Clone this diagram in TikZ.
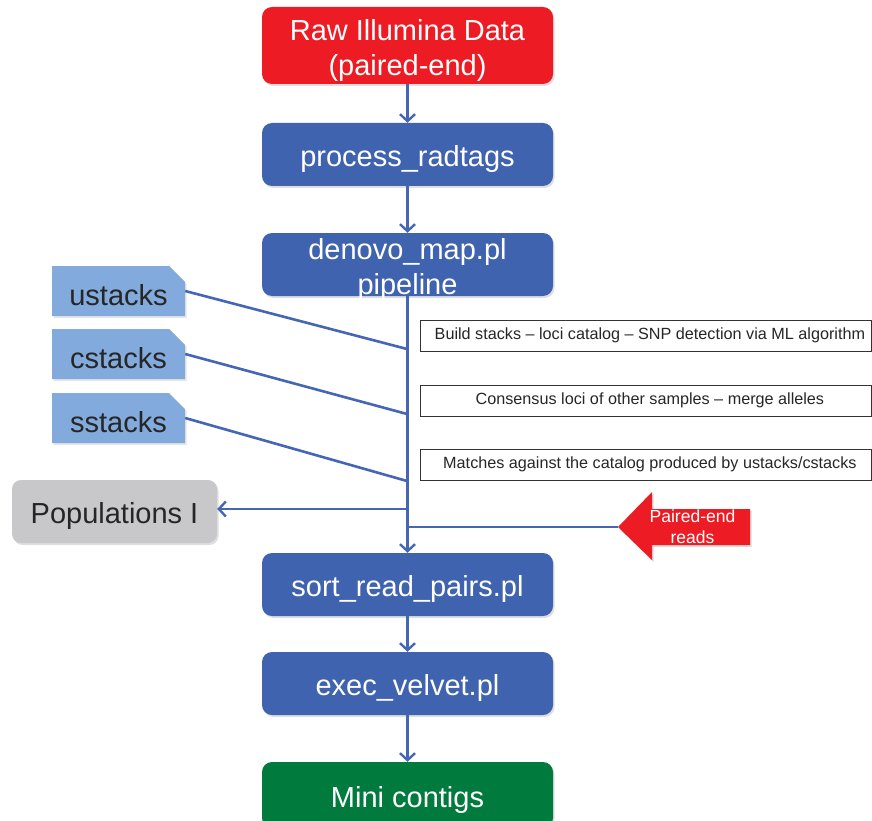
\documentclass[tikz,border=0pt]{standalone}
\usepackage{fontspec}
\setmainfont{Liberation Sans}
\usetikzlibrary{arrows.meta,shapes.misc,shadows,calc}
\definecolor{rawred}{RGB}{237,28,36}
\definecolor{stepblue}{RGB}{64,99,175}
\definecolor{linkblue}{RGB}{68,102,180}
\definecolor{finalgreen}{RGB}{0,122,61}
\definecolor{popgray}{RGB}{200,200,202}
\definecolor{stacklight}{RGB}{130,170,220}
\newcommand{\lowerstrut}{\rule{0pt}{31pt}}
\tikzset{
  flowbox/.style={rounded corners=10pt, minimum width=291pt, minimum height=63pt, inner sep=0pt,
    text=white, font=\fontsize{29}{34.5}\selectfont, align=center,
    drop shadow={opacity=0.25, shadow xshift=1.5pt, shadow yshift=-2pt}},
  stackbox/.style={chamfered rectangle, chamfered rectangle corners={north east},
    chamfered rectangle xsep=8pt, chamfered rectangle ysep=8pt,
    fill=stacklight, minimum width=133pt, minimum height=50pt, inner sep=0pt,
    text=black!85, font=\fontsize{29}{34}\selectfont,
    execute at begin node={\rule{0pt}{29pt}},
    drop shadow={opacity=0.2, shadow xshift=1.5pt, shadow yshift=-2pt}},
  notebox/.style={draw=black!80, line width=0.8pt, minimum width=451pt, minimum height=31pt,
    inner sep=0pt, font=\fontsize{16.2}{19}\selectfont, text=black!85},
  link/.style={draw=linkblue, line width=2.6pt},
  linkarrow/.style={link, -{Straight Barb[length=7pt,width=15pt,line width=2.4pt]}},
}
\begin{document}
\begin{tikzpicture}[x=1pt,y=-1pt]
\useasboundingbox (0,0) rectangle (872,821);
\clip (0,0) rectangle (872,821);

% main flow boxes
\node[flowbox, fill=rawred, minimum height=77pt] (raw) at (407.5,45.5) {\lowerstrut Raw Illumina Data\\(paired-end)};
\node[flowbox, fill=stepblue] (proc) at (407.5,154.5) {\lowerstrut process\_radtags};
\node[flowbox, fill=stepblue, inner ysep=-6pt] (denovo) at (407.5,264.5) {\lowerstrut denovo\_map.pl\\pipeline};
\node[flowbox, fill=stepblue] (sort) at (407.5,584.5) {\lowerstrut sort\_read\_pairs.pl};
\node[flowbox, fill=stepblue] (velvet) at (407.5,683.5) {\lowerstrut exec\_velvet.pl};
\node[flowbox, fill=finalgreen, minimum height=66pt] (mini) at (407.5,795) {\lowerstrut Mini contigs};

% stacks components
\node[stackbox] (ustacks) at (118.5,291) {ustacks};
\node[stackbox] (cstacks) at (118.5,354) {cstacks};
\node[stackbox] (sstacks) at (118.5,418) {sstacks};

% populations
\node[flowbox, fill=popgray, text=black!85, minimum width=205pt, minimum height=63pt, rounded corners=9pt] (pop) at (114.5,511.5) {\lowerstrut Populations I};

% notes
\node[notebox, anchor=west] (n1) at (420,335.5) {\hspace*{8pt}Build stacks -- loci catalog -- SNP detection via ML algorithm};
\node[notebox, anchor=west] (n2) at (420,400.5) {\hspace*{8pt}Consensus loci of other samples -- merge alleles};
\node[notebox, anchor=west] (n3) at (420,464.5) {\hspace*{8pt}Matches against the catalog produced by ustacks/cstacks};

% paired-end reads arrow
\fill[black, opacity=0.15] (653.5,511) -- (653.5,494) -- (619.5,529) -- (653.5,562) -- (653.5,547) -- (751.5,547) -- (751.5,511) -- cycle;
\fill[rawred] (652,509) -- (652,492) -- (618,527) -- (652,560) -- (652,545) -- (750,545) -- (750,509) -- cycle;
\node[align=center, inner sep=0pt, text=white, font=\fontsize{17.5}{21}\selectfont] (pe) at (692.5,527) {Paired-end\\reads};
\coordinate (petip) at (618,527);

% junctions on the main line
\coordinate (ju) at (407,349);
\coordinate (jc) at (407,414);
\coordinate (js) at (407,481);
\coordinate (jp) at (407,509);
\coordinate (je) at (407,527);

% connectors
\draw[linkarrow] (raw.south) -- (proc.north);
\draw[linkarrow] (proc.south) -- (denovo.north);
\draw[linkarrow] (denovo.south) -- (sort.north);
\draw[linkarrow] (sort.south) -- (velvet.north);
\draw[linkarrow] (velvet.south) -- (mini.north);
\draw[link] (ustacks.east) -- (ju);
\draw[link] (cstacks.east) -- (jc);
\draw[link] (sstacks.east) -- (js);
\draw[linkarrow] (jp) -- (jp -| pop.east);
\draw[link] (petip) -- (je);
\end{tikzpicture}
\end{document}
